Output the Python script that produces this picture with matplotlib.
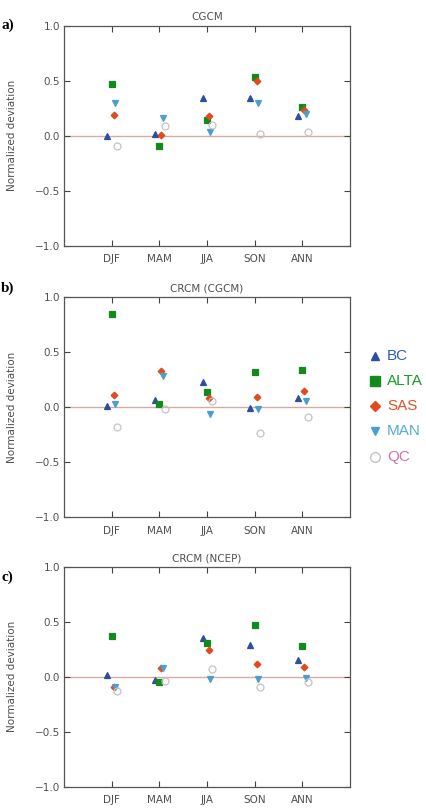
import matplotlib
matplotlib.use("Agg")
import matplotlib.pyplot as plt
from matplotlib.lines import Line2D

# Categorias e séries
seasons = ["DJF", "MAM", "JJA", "SON", "ANN"]
regions = ["BC", "ALTA", "SAS", "MAN", "QC"]
panel_titles = ["CGCM", "CRCM (CGCM)", "CRCM (NCEP)"]
panel_tags = ["a)", "b)", "c)"]

# a) CGCM
cgcm_bc = [0.00, 0.02, 0.34, 0.34, 0.18]
cgcm_alta = [0.47, -0.09, 0.14, 0.53, 0.26]
cgcm_sas = [0.19, 0.01, 0.18, 0.50, 0.23]
cgcm_man = [0.30, 0.16, 0.03, 0.30, 0.20]
cgcm_qc = [-0.09, 0.09, 0.10, 0.02, 0.03]

# b) CRCM (CGCM)
crcm_cgcm_bc = [0.01, 0.07, 0.23, -0.01, 0.08]
crcm_cgcm_alta = [0.85, 0.03, 0.14, 0.32, 0.34]
crcm_cgcm_sas = [0.11, 0.33, 0.08, 0.09, 0.15]
crcm_cgcm_man = [0.03, 0.28, -0.06, -0.02, 0.06]
crcm_cgcm_qc = [-0.18, -0.02, 0.06, -0.23, -0.09]

# c) CRCM (NCEP)
crcm_ncep_bc = [0.02, -0.03, 0.35, 0.29, 0.15]
crcm_ncep_alta = [0.37, -0.05, 0.31, 0.47, 0.28]
crcm_ncep_sas = [-0.09, 0.08, 0.24, 0.12, 0.09]
crcm_ncep_man = [-0.09, 0.08, -0.02, -0.02, -0.01]
crcm_ncep_qc = [-0.13, -0.04, 0.07, -0.09, -0.05]

PANELS = [
    [cgcm_bc, cgcm_alta, cgcm_sas, cgcm_man, cgcm_qc],
    [crcm_cgcm_bc, crcm_cgcm_alta, crcm_cgcm_sas, crcm_cgcm_man, crcm_cgcm_qc],
    [crcm_ncep_bc, crcm_ncep_alta, crcm_ncep_sas, crcm_ncep_man, crcm_ncep_qc],
]

# Estilo de cada região: marcador, cor, deslocamento horizontal, cor do texto da legenda
ESTILO = {
    "BC": dict(marker="^", color="#2e4f9e", face="#2e4f9e", dx=-0.09, ms=4.6, txt="#2f5fb5"),
    "ALTA": dict(marker="s", color="#138a1e", face="#138a1e", dx=0.0, ms=5.0, txt="#1a9a2a"),
    "SAS": dict(marker="D", color="#e04a1e", face="#e04a1e", dx=0.04, ms=3.4, txt="#e0502a"),
    "MAN": dict(marker="v", color="#4a9fcf", face="#4a9fcf", dx=0.07, ms=4.6, txt="#55acd8"),
    "QC": dict(marker="o", color="#c4c4c4", face="none", dx=0.11, ms=5.0, txt="#d070b0"),
}

W, H = 426, 808
fig = plt.figure(figsize=(W / 100, H / 100), dpi=100)

# posições dos painéis em pixels
tops = [25.7, 297.3, 566.7]
tag_y = [25, 288, 577]
left_px, right_px = 64, 350

x = list(range(1, len(seasons) + 1))

for k, (dados, titulo, tag) in enumerate(zip(PANELS, panel_titles, panel_tags)):
    top = tops[k]
    alt = 220.0
    ax = fig.add_axes([left_px / W, 1 - (top + alt) / H, (right_px - left_px) / W, alt / H])

    ax.axhline(0, color="#d9a9a5", lw=1.0, zorder=1)

    for reg, serie in zip(regions, dados):
        st = ESTILO[reg]
        ax.plot([xi + st["dx"] for xi in x], serie, linestyle="none",
                marker=st["marker"], markersize=st["ms"],
                markerfacecolor=st["face"], markeredgecolor=st["color"],
                markeredgewidth=0.9, zorder=3)

    ax.set_xlim(0, 6)
    ax.set_ylim(-1.0, 1.0)
    ax.set_xticks(x)
    ax.set_xticklabels(seasons)
    ax.set_yticks([-1.0, -0.5, 0.0, 0.5, 1.0])
    ax.set_yticklabels(["\u22121.0", "\u22120.5", "0.0", "0.5", "1.0"])
    ax.tick_params(direction="in", top=True, right=True, length=4, width=0.8,
                   color="#444444", labelcolor="#505050", labelsize=7.5)
    ax.tick_params(axis="x", pad=6)
    ax.tick_params(axis="y", pad=3)
    for sp in ax.spines.values():
        sp.set_color("#555555")
        sp.set_linewidth(0.9)

    ax.set_ylabel("Normalized deviation", fontsize=7.5, color="#505050")
    ax.yaxis.set_label_coords(-0.163, 0.5)
    ax.set_title(titulo, fontsize=7.5, color="#505050", pad=4)

    fig.text(1 / W, 1 - tag_y[k] / H, tag, fontsize=11, fontweight="bold",
             family="Liberation Serif", va="center", ha="left")

# Legenda manual à direita do painel b
y0, passo = 355.7, 25.2
for i, reg in enumerate(regions):
    st = ESTILO[reg]
    yy = 1 - (y0 + i * passo) / H
    fig.add_artist(Line2D([375 / W], [yy], transform=fig.transFigure, linestyle="none",
                          marker=st["marker"], markersize=st["ms"] * 1.4,
                          markerfacecolor=st["face"], markeredgecolor=st["color"],
                          markeredgewidth=1.0))
    fig.text(387 / W, yy, reg, fontsize=11, color=st["txt"], va="center", ha="left",
             family="Liberation Sans")

plt.savefig("out.png", dpi=100)
